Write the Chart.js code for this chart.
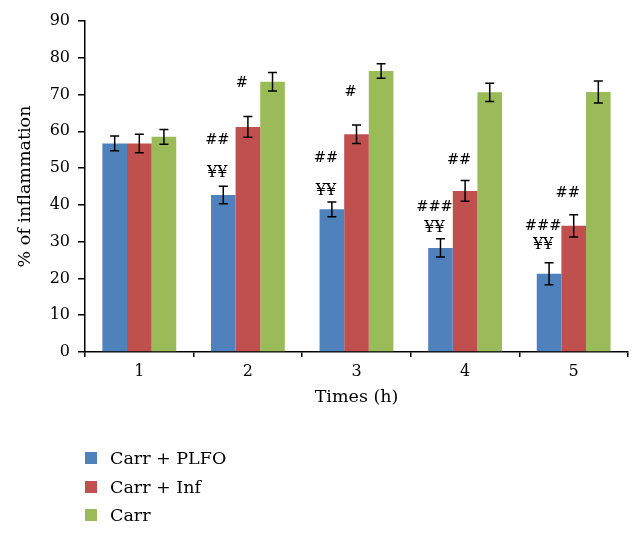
<!DOCTYPE html>
<html>
<head>
<meta charset="utf-8">
<script src="https://cdn.jsdelivr.net/npm/chart.js@4/dist/chart.umd.min.js"></script>
<style>
  html, body { margin: 0; padding: 0; background: #fff; }
  #wrap { position: relative; width: 643px; height: 536px; }
  #legend { position: absolute; left: 85px; top: 444px; font-family: "DejaVu Serif", serif; font-size: 17.5px; color: #000; }
  #legend .row { display: flex; align-items: center; height: 28.5px; }
  #legend .box { width: 12px; height: 12px; margin-right: 13px; }
</style>
</head>
<body>
<div id="wrap">
  <canvas id="chart" width="643" height="536"></canvas>
  <div id="legend"></div>
</div>
<script>
const categories = ['1', '2', '3', '4', '5'];
const seriesNames = ['Carr + PLFO', 'Carr + Inf', 'Carr'];
const plfo = [56.7, 42.7, 38.8, 28.3, 21.3];
const inf = [56.7, 61.2, 59.2, 43.8, 34.3];
const carr = [58.5, 73.5, 76.4, 70.6, 70.7];
const plfoErr = [2.0, 2.4, 2.0, 2.5, 3.0];
const infErr = [2.5, 2.8, 2.5, 2.8, 3.0];
const carrErr = [2.0, 2.5, 2.0, 2.5, 3.0];
const colors = ['#4F81BD', '#C0504D', '#9BBB59'];
const yTicks = [0, 10, 20, 30, 40, 50, 60, 70, 80, 90];

// significance marks: category index, series index, text, value level
const noteCat = [1, 1, 1, 2, 2, 2, 3, 3, 3, 4, 4, 4];
const noteSeries = [0, 0, 1, 0, 0, 1, 0, 0, 1, 0, 0, 1];
const noteText = ['##', '¥¥', '#', '##', '¥¥', '#', '###', '¥¥', '##', '###', '¥¥', '##'];
const noteY = [57.6, 48.6, 73.1, 52.6, 43.8, 70.7, 39.3, 33.8, 52.2, 34.3, 29.1, 43.1];

const FONT = '"DejaVu Serif", serif';
const values = [plfo, inf, carr];
const errors = [plfoErr, infErr, carrErr];

const errorBars = {
  id: 'errorBars',
  afterDatasetsDraw(chart) {
    const { ctx, scales: { y } } = chart;
    ctx.save();
    ctx.strokeStyle = '#000';
    ctx.lineWidth = 1.5;
    chart.data.datasets.forEach((ds, i) => {
      chart.getDatasetMeta(i).data.forEach((bar, j) => {
        const hi = y.getPixelForValue(ds.data[j] + errors[i][j]);
        const lo = y.getPixelForValue(ds.data[j] - errors[i][j]);
        const x = bar.x, w = 4.5;
        ctx.beginPath();
        ctx.moveTo(x, hi); ctx.lineTo(x, lo);
        ctx.moveTo(x - w, hi); ctx.lineTo(x + w, hi);
        ctx.moveTo(x - w, lo); ctx.lineTo(x + w, lo);
        ctx.stroke();
      });
    });
    ctx.restore();
  }
};

const notes = {
  id: 'notes',
  afterDatasetsDraw(chart) {
    const { ctx, scales: { y } } = chart;
    ctx.save();
    ctx.fillStyle = '#000';
    ctx.textAlign = 'center';
    ctx.textBaseline = 'middle';
    noteText.forEach((t, k) => {
      const bar = chart.getDatasetMeta(noteSeries[k]).data[noteCat[k]];
      ctx.font = (t.includes('¥') ? '16px ' : '14.5px ') + FONT;
      ctx.fillText(t, bar.x - 6, y.getPixelForValue(noteY[k]));
    });
    ctx.restore();
  }
};

new Chart(document.getElementById('chart'), {
  type: 'bar',
  data: {
    labels: categories,
    datasets: seriesNames.map((name, i) => ({
      label: name,
      data: values[i],
      backgroundColor: colors[i],
      borderWidth: 0,
      categoryPercentage: 0.68,
      barPercentage: 1.0,
    })),
  },
  options: {
    responsive: false,
    animation: false,
    layout: { padding: { top: 21, right: 15, bottom: 124, left: 0 } },
    plugins: {
      legend: { display: false },
      tooltip: { enabled: false },
    },
    scales: {
      x: {
        afterFit: s => { s.height = 60; },
        grid: { offset: true, drawOnChartArea: false, tickLength: 5, color: '#000', lineWidth: 1.5 },
        border: { color: '#000', width: 1.5 },
        ticks: { color: '#000', padding: 5, maxRotation: 0, font: { family: FONT, size: 16 } },
        title: { display: true, text: 'Times (h)', color: '#000', padding: { top: 4, bottom: 4 }, font: { family: FONT, size: 17.5 } },
      },
      y: {
        min: 0,
        max: 90,
        afterFit: s => { s.width = 85; },
        afterBuildTicks: s => { s.ticks = yTicks.map(v => ({ value: v })); },
        grid: { drawOnChartArea: false, tickLength: 7, color: '#000', lineWidth: 1.5 },
        border: { color: '#000', width: 1.5 },
        ticks: { color: '#000', padding: 8, font: { family: FONT, size: 16 } },
        title: { display: true, text: '% of inflammation', color: '#000', padding: { top: 15, bottom: 4 }, font: { family: FONT, size: 17.5 } },
      },
    },
  },
  plugins: [errorBars, notes],
});

const legend = document.getElementById('legend');
seriesNames.forEach((name, i) => {
  const row = document.createElement('div');
  row.className = 'row';
  const box = document.createElement('span');
  box.className = 'box';
  box.style.background = colors[i];
  const txt = document.createElement('span');
  txt.textContent = name;
  row.appendChild(box);
  row.appendChild(txt);
  legend.appendChild(row);
});
</script>
</body>
</html>
